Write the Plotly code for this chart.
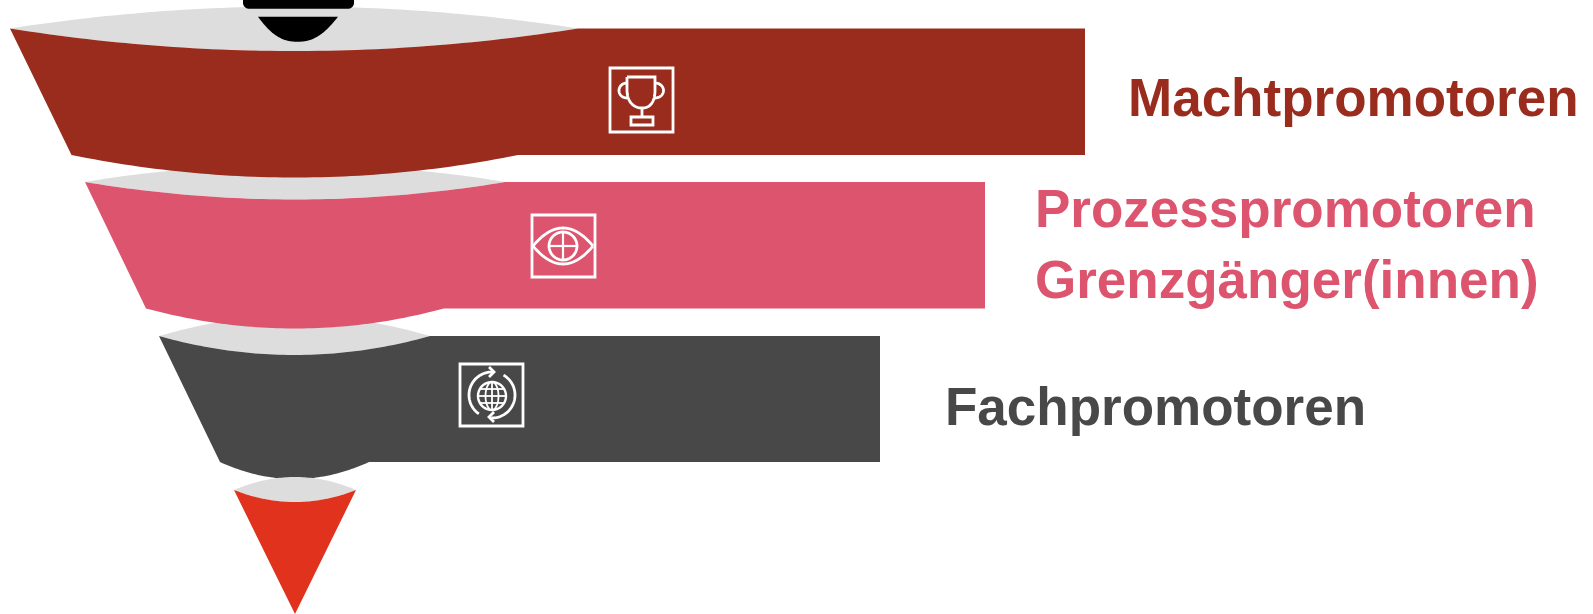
import numpy as np
import plotly.graph_objects as go

# Funnel stages, top to bottom
stage_names = ["Machtpromotoren", "Prozesspromotoren", "Fachpromotoren"]
stage_colors = ["#9A2C1E", "#DC546D", "#484848"]
neck_color = "#DDDDDD"
tip_color = "#E0321D"
ink_color = "#000000"
icon_color = "#FFFFFF"

# Band outlines on the 1593 x 614 canvas axes
top_left_x = [10, 85, 159]
top_right_x = [578, 505, 430]
top_y = [28.5, 182, 336]
top_sag = [22.5, 17.5, 19]
bottom_left_x = [71.5, 146, 220]
bottom_right_x = [518, 444, 369]
bottom_y = [155, 308.5, 462]
bottom_sag = [22.5, 20, 17]
band_end_x = [1085, 985, 880]
neck_sag = [-22, -17.5, -20]

# Funnel tip
tip_left_x, tip_right_x, tip_y = 234, 356, 490
tip_front_sag, tip_back_sag = 12, -13
tip_point = (295, 614)

# Labels: text, left edge, vertical centre, colour
label_text = ["Machtpromotoren", "Prozesspromotoren", "Grenzgänger(innen)", "Fachpromotoren"]
label_x = [1125.5, 1033, 1033, 942.5]
label_y = [97, 208, 279, 406]
label_color = ["#9A2C1E", "#DC546D", "#DC546D", "#484848"]
label_size = 53


def sagging(x0, x1, y, sag, n=60):
    """Points of a shallow curve between two level corners, dipping by sag at its middle."""
    t = np.linspace(0, 1, n)
    return x0 + (x1 - x0) * t, y + 4 * sag * t * (1 - t)


def filled(fig, x, y, color):
    fig.add_trace(go.Scatter(x=list(x), y=list(y), mode="lines", fill="toself", fillcolor=color,
                             line=dict(width=0, color=color, simplify=False),
                             hoverinfo="skip", showlegend=False))


def stroke(fig, x, y, width=2.8):
    fig.add_trace(go.Scatter(x=list(x), y=list(y), mode="lines", hoverinfo="skip", showlegend=False,
                             line=dict(width=width, color=icon_color, simplify=False)))


def frame(fig, x0, x1, y0, y1, width=2.8):
    # Starts mid-edge so the open path's ends stay hidden along a straight side
    xm = (x0 + x1) / 2
    stroke(fig, [xm, x1, x1, x0, x0, xm], [y0, y0, y1, y1, y0, y0], width)


def ring(cx, cy, rx, ry, a0=0, a1=360, n=60):
    a = np.radians(np.linspace(a0, a1, n))
    return cx + rx * np.cos(a), cy + ry * np.sin(a)


def lens(fig, x0, x1, y, front_sag, back_sag):
    fx, fy = sagging(x0, x1, y, front_sag)
    bx, by = sagging(x1, x0, y, back_sag)
    filled(fig, np.r_[fx, bx], np.r_[fy, by], neck_color)


def cubic(p0, p1, p2, p3, n=30):
    t = np.linspace(0, 1, n)
    bx = (1-t)**3*p0[0] + 3*(1-t)**2*t*p1[0] + 3*(1-t)*t**2*p2[0] + t**3*p3[0]
    by = (1-t)**3*p0[1] + 3*(1-t)**2*t*p1[1] + 3*(1-t)*t**2*p2[1] + t**3*p3[1]
    return bx, by


fig = go.Figure()

# Grey openings sit behind the bands
for i in [2, 1, 0]:
    lens(fig, top_left_x[i], top_right_x[i], top_y[i], top_sag[i], neck_sag[i])

for i in range(3):
    tx, ty = sagging(top_left_x[i], top_right_x[i], top_y[i], top_sag[i])
    bx, by = sagging(bottom_right_x[i], bottom_left_x[i], bottom_y[i], bottom_sag[i])
    filled(fig,
           np.r_[tx, band_end_x[i], band_end_x[i], bx, top_left_x[i]],
           np.r_[ty, top_y[i], bottom_y[i], by, top_y[i]],
           stage_colors[i])

# Tip of the funnel
lens(fig, tip_left_x, tip_right_x, tip_y, tip_front_sag, tip_back_sag)
fx, fy = sagging(tip_left_x, tip_right_x, tip_y, tip_front_sag)
filled(fig, np.r_[fx, tip_point[0], tip_left_x], np.r_[fy, tip_point[1], tip_y], tip_color)

# Black drop entering the funnel from above
cx0, cy0 = ring(249, 2.7, 6, 6, 180, 90, 12)
cx1, cy1 = ring(348, 2.7, 6, 6, 90, 0, 12)
filled(fig, np.r_[243, cx0, cx1, 354, 243], np.r_[-4, cy0, cy1, -4, -4], ink_color)
lx, ly = cubic((258, 16.7), (272, 36), (283, 41.8), (297.5, 41.8))
rx, ry = cubic((297.5, 41.8), (312, 41.8), (323, 36), (338, 16.7))
filled(fig, np.r_[lx, rx, 258], np.r_[ly, ry, 16.7], ink_color)

# Trophy icon
frame(fig, 610, 673, 68, 132)
lx, ly = cubic((627, 90), (627, 101), (633, 108), (642, 108))
rx, ry = cubic((642, 108), (651, 108), (655, 101), (655, 90))
stroke(fig, np.r_[627, lx, rx, 655, 627], np.r_[77, ly, ry, 77, 77])
hx, hy = ring(627, 90.5, 8, 7.5, 90, 270)
stroke(fig, hx, hy)
hx, hy = ring(655, 90.5, 8.5, 7.5, -90, 90)
stroke(fig, hx, hy)
stroke(fig, [642, 642], [108, 117])
frame(fig, 631, 653, 117, 125)

# Eye icon
frame(fig, 532, 595, 215, 277)
ex, ey = sagging(533, 593, 246, -18)
stroke(fig, ex, ey)
ex, ey = sagging(533, 593, 246, 18)
stroke(fig, ex, ey)
rx, ry = ring(563, 246, 14, 14)
stroke(fig, rx, ry)
stroke(fig, [563, 563], [232, 260], 2.2)
stroke(fig, [549, 577], [246, 246], 2.2)

# Globe icon with two circling arrows
frame(fig, 460, 523, 364, 426)
rx, ry = ring(492, 396, 14, 14)
stroke(fig, rx, ry, 2.4)
rx, ry = ring(492, 396, 6.5, 14)
stroke(fig, rx, ry, 1.8)
stroke(fig, [492, 492], [382, 410], 1.8)
stroke(fig, [478, 506], [396, 396], 1.8)
stroke(fig, [480, 504], [389, 389], 1.8)
stroke(fig, [480, 504], [403, 403], 1.8)
ax, ay = ring(492, 395, 23, 23, 125, 272)
stroke(fig, ax, ay)
stroke(fig, [489, 494, 489], [367, 372, 377])
ax, ay = ring(492, 395, 23, 23, -60, 92)
stroke(fig, ax, ay)
stroke(fig, [494, 489, 494], [412, 417, 422])

for text, x, y, color in zip(label_text, label_x, label_y, label_color):
    fig.add_annotation(x=x, y=y, text=text, showarrow=False, xanchor="left", yanchor="middle",
                       font=dict(family="Liberation Sans, Arial, sans-serif", size=label_size,
                                 color=color, weight="bold"))

fig.update_layout(
    width=1593, height=614, autosize=False,
    margin=dict(l=0, r=0, t=0, b=0),
    paper_bgcolor="white", plot_bgcolor="white",
    xaxis=dict(range=[0, 1593], visible=False, fixedrange=True),
    yaxis=dict(range=[614, 0], visible=False, fixedrange=True),
)

fig.write_html("out.html")
